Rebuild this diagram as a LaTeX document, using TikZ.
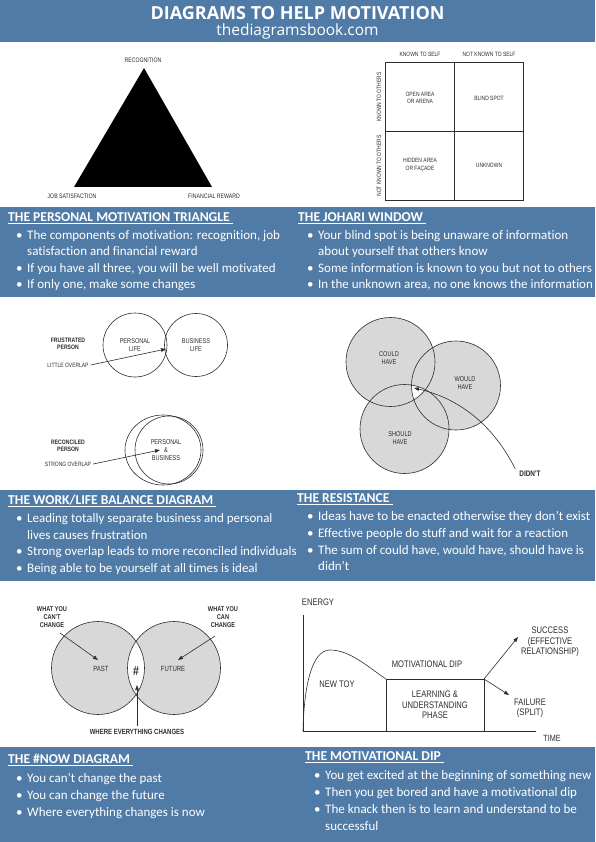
\documentclass[tikz,border=0pt]{standalone}
\usepackage{fontspec}
\setmainfont{Carlito}[Ligatures=NoCommon]
\newfontfamily\titlefont{Open Sans}
\newfontfamily\cond[FakeStretch=0.8]{Liberation Sans}
\usetikzlibrary{arrows.meta}
\definecolor{panel}{RGB}{80,123,166}
\definecolor{vgray}{RGB}{216,216,216}
\definecolor{ink}{RGB}{45,45,45}
\begin{document}
\begin{tikzpicture}[x=1pt,y=-1pt,
  lbl/.style={font=\cond\fontsize{#1}{#1}\selectfont, align=center, text=ink, inner sep=0pt},
  blbl/.style={font=\cond\bfseries\fontsize{#1}{#1}\selectfont, align=center, text=ink, inner sep=0pt},
  head/.style={anchor=west, font=\bfseries\fontsize{13.6}{15}\selectfont, text=white, inner sep=0pt, text height=9pt, text depth=2.5pt},
  body/.style={anchor=west, font=\fontsize{13}{15}\selectfont, text=white, inner sep=0pt, text height=8.8pt, text depth=2.6pt},
  dot/.style={anchor=west, font=\fontsize{13}{15}\selectfont, text=white, inner sep=0pt, text height=8.8pt, text depth=2.6pt},
  ln/.style={draw=ink, line width=0.6pt},
  arr/.style={ln, -{Triangle[length=5pt,width=3.6pt]}},
  wcirc/.style={circle, draw=ink, line width=0.6pt, inner sep=0pt, font=\cond\fontsize{7}{8}\selectfont, align=center, text=ink}
]
\useasboundingbox (0,0) rectangle (595,842);
% ---------- panels ----------
\fill[white] (0,0) rectangle (595,842);
\fill[panel] (0,0) rectangle (595,42);
\fill[panel] (0,207) rectangle (595,297);
\fill[panel] (0,490) rectangle (595,581);
\fill[panel] (0,747) rectangle (595,842);
% ---------- title ----------
\node[font=\titlefont\bfseries\fontsize{18}{20}\selectfont, text=white, inner sep=0pt] (title) at (297.5,13) {DIAGRAMS TO HELP MOTIVATION};
\node[font=\titlefont\fontsize{15.5}{18}\selectfont, text=white, inner sep=0pt] (site) at (297.5,31) {thediagramsbook.com};

% ---------- triangle ----------
\coordinate (ta) at (144,68);
\coordinate (tl) at (74,187);
\coordinate (tr) at (212,187);
\fill[black] (ta) -- (tl) -- (tr) -- cycle;
\node[lbl=6.5] (rec) at (143,60) {RECOGNITION};
\node[lbl=6.5] (job) at (72,196) {JOB SATISFACTION};
\node[lbl=6.5] (fin) at (214,196) {FINANCIAL REWARD};

% ---------- johari ----------
\draw[ln] (385,62) rectangle (523,200);
\draw[ln] (454,62) -- (454,200);
\draw[ln] (385,131) -- (523,131);
\node[lbl=6.2] (ks) at (420,54) {KNOWN TO SELF};
\node[lbl=6.2] (nks) at (489,54) {NOT KNOWN TO SELF};
\node[lbl=6.2, rotate=90] (ko) at (379,97) {KNOWN TO OTHERS};
\node[lbl=6.2, rotate=90] (nko) at (379,166) {NOT KNOWN TO OTHERS};
\node[lbl=6.2] (open) at (420,98) {OPEN AREA\\[1pt]OR ARENA};
\node[lbl=6.2] (blind) at (489,98) {BLIND SPOT};
\node[lbl=6.2] (hidden) at (420,165) {HIDDEN AREA\\[1pt]OR FAÇADE};
\node[lbl=6.2] (unk) at (489,165) {UNKNOWN};

% ---------- panel 1 text ----------
\node[head] (h1) at (8,218) {\underline{THE PERSONAL MOTIVATION TRIANGLE\ }};
\node[dot] (b11) at (16,236) {•};
\node[body] (t11) at (27,236) {The components of motivation: recognition, job};
\node[body] (t11b) at (27,252) {satisfaction and financial reward};
\node[dot] (b12) at (16,269) {•};
\node[body] (t12) at (27,269) {If you have all three, you will be well motivated};
\node[dot] (b13) at (16,285) {•};
\node[body] (t13) at (27,285) {If only one, make some changes};

\node[head] (h2) at (298,218) {\underline{THE JOHARI WINDOW\ }};
\node[dot] (b21) at (307,236) {•};
\node[body] (t21) at (318,236) {Your blind spot is being unaware of information};
\node[body] (t21b) at (318,252) {about yourself that others know};
\node[dot] (b22) at (307,269) {•};
\node[body] (t22) at (318,269) {Some information is known to you but not to others};
\node[dot] (b23) at (307,285) {•};
\node[body] (t23) at (318,285) {In the unknown area, no one knows the information};

% ---------- work/life ----------
\node[wcirc, minimum size=64pt] (pl) at (135,345) {PERSONAL\\LIFE};
\node[wcirc, minimum size=63pt] (bl) at (196,345) {BUSINESS\\LIFE};
\node[blbl=6.4] (fr) at (68,344) {FRUSTRATED\\[1pt]PERSON};
\node[lbl=6.2, anchor=center] (lo) at (68,365) {LITTLE OVERLAP};
\coordinate (loend) at (166,349);
\draw[arr] (lo.east) ++(2,0) coordinate (lostart) -- (loend);

\draw[ln] (163,450) ellipse [x radius=38, y radius=35];
\node[wcirc, minimum size=68pt] (pb) at (169,450) {};
\node[lbl=7] (pbt) at (166,450) {PERSONAL\\[1pt]\&\\[1pt]BUSINESS};
\node[blbl=6.4] (rc) at (68,446) {RECONCILED\\[1pt]PERSON};
\node[lbl=6.2] (so) at (68,464) {STRONG OVERLAP};
\coordinate (soend) at (160,450);
\draw[arr] (so.east) ++(2,0) -- (soend);

% ---------- resistance ----------
\coordinate (cc) at (390.5,362);
\coordinate (wc) at (456,385.5);
\coordinate (sc) at (404.5,429);
\fill[vgray] (cc) circle (44.5);
\fill[vgray] (wc) circle (44.5);
\fill[vgray] (sc) circle (44.5);
\begin{scope}
  \clip (cc) circle (44.5);
  \clip (wc) circle (44.5);
  \fill[white] (sc) circle (44.5);
\end{scope}
\draw[ln] (cc) circle (44.5);
\draw[ln] (wc) circle (44.5);
\draw[ln] (sc) circle (44.5);
\node[lbl=7] (could) at (389,358) {COULD\\[1pt]HAVE};
\node[lbl=7] (would) at (465,383) {WOULD\\[1pt]HAVE};
\node[lbl=7] (should) at (400,438) {SHOULD\\[1pt]HAVE};
\node[blbl=8] (didnt) at (530,474) {DIDN'T};
\coordinate (dtip) at (414,388);
\draw[arr] (didnt.north west) ++(-4,-2) .. controls (495,428) and (462,399) .. (dtip);

% ---------- panel 2 text ----------
\node[head] (h3) at (8,501) {\underline{THE WORK/LIFE BALANCE DIAGRAM\ }};
\node[dot] (b31) at (16,519) {•};
\node[body] (t31) at (27,519) {Leading totally separate business and personal};
\node[body] (t31b) at (27,536) {lives causes frustration};
\node[dot] (b32) at (16,552) {•};
\node[body] (t32) at (27,552) {Strong overlap leads to more reconciled individuals};
\node[dot] (b33) at (16,569) {•};
\node[body] (t33) at (27,569) {Being able to be yourself at all times is ideal};

\node[head] (h4) at (297,499) {\underline{THE RESISTANCE\ }};
\node[dot] (b41) at (307,517) {•};
\node[body] (t41) at (318,517) {Ideas have to be enacted otherwise they don't exist};
\node[dot] (b42) at (307,534) {•};
\node[body] (t42) at (318,534) {Effective people do stuff and wait for a reaction};
\node[dot] (b43) at (307,551) {•};
\node[body] (t43) at (318,551) {The sum of could have, would have, should have is};
\node[body] (t43b) at (318,567) {didn't};

% ---------- #now ----------
\coordinate (pc) at (98,668);
\coordinate (fc) at (174,668);
\fill[vgray] (pc) circle (46.5);
\fill[vgray] (fc) circle (46.5);
\begin{scope}
  \clip (pc) circle (46.5);
  \fill[white] (fc) circle (46.5);
\end{scope}
\draw[ln] (pc) circle (46.5);
\draw[ln] (fc) circle (46.5);
\node[lbl=7.5] (past) at (101,669) {PAST};
\node[lbl=7.5] (future) at (173,669) {FUTURE};
\node[font=\cond\bfseries\fontsize{13}{13}\selectfont, text=ink, inner sep=0pt] (hash) at (136,671) {\#};
\node[blbl=7] (wyc) at (52,617) {WHAT YOU\\[1pt]CAN'T\\[1pt]CHANGE};
\node[blbl=7] (wyn) at (223,617) {WHAT YOU\\[1pt]CAN\\[1pt]CHANGE};
\node[blbl=7.5] (wec) at (137,732) {WHERE EVERYTHING CHANGES};
\coordinate (pastend) at (98,660);
\coordinate (futend) at (178,660);
\coordinate (nowend) at (137,685);
\draw[arr] (60,633) -- (pastend);
\draw[arr] (215,636) -- (futend);
\draw[arr] (wec.north) ++(0,-3) -- (nowend);

% ---------- motivational dip ----------
\coordinate (origin) at (303,731);
\coordinate (ytop) at (303,615);
\coordinate (xend) at (536,731);
\draw[ln] (ytop) -- (origin) -- (xend);
\coordinate (peak) at (330,650);
\coordinate (dipL) at (386,679);
\coordinate (dipR) at (484,679);
\draw[ln] (origin) .. controls (304,685) and (312,650) .. (peak) .. controls (350,650) and (368,667) .. (dipL);
\draw[ln] (dipL) -- (dipR);
\draw[ln] (dipL) -- (386,731);
\draw[ln] (dipR) -- (484,731);
\node[lbl=9.5] (energy) at (318,602) {ENERGY};
\node[lbl=9] (time) at (552,738) {TIME};
\node[lbl=9.5] (mdip) at (427,664) {MOTIVATIONAL DIP};
\node[lbl=9.5] (newtoy) at (337,684) {NEW TOY};
\node[lbl=9.5] (learn) at (435,705) {LEARNING \&\\[1pt]UNDERSTANDING\\[1pt]PHASE};
\node[lbl=9.5] (succ) at (550,642) {SUCCESS\\[1pt](EFFECTIVE\\[1pt]RELATIONSHIP)};
\node[lbl=9.5] (fail) at (530,708) {FAILURE\\[1pt](SPLIT)};
\coordinate (succend) at (518,637);
\coordinate (failend) at (509,695);
\draw[arr] (dipR) -- (succend);
\draw[arr] (dipR) -- (failend);

% ---------- panel 3 text ----------
\node[head] (h5) at (8,760) {\underline{THE \#NOW DIAGRAM\ }};
\node[dot] (b51) at (16,779) {•};
\node[body] (t51) at (27,779) {You can't change the past};
\node[dot] (b52) at (16,796) {•};
\node[body] (t52) at (27,796) {You can change the future};
\node[dot] (b53) at (16,813) {•};
\node[body] (t53) at (27,813) {Where everything changes is now};

\node[head] (h6) at (305,757) {\underline{THE MOTIVATIONAL DIP\ }};
\node[dot] (b61) at (314,776) {•};
\node[body] (t61) at (325,776) {You get excited at the beginning of something new};
\node[dot] (b62) at (314,793) {•};
\node[body] (t62) at (325,793) {Then you get bored and have a motivational dip};
\node[dot] (b63) at (314,810) {•};
\node[body] (t63) at (325,810) {The knack then is to learn and understand to be};
\node[body] (t63b) at (325,827) {successful};
\end{tikzpicture}
\end{document}
